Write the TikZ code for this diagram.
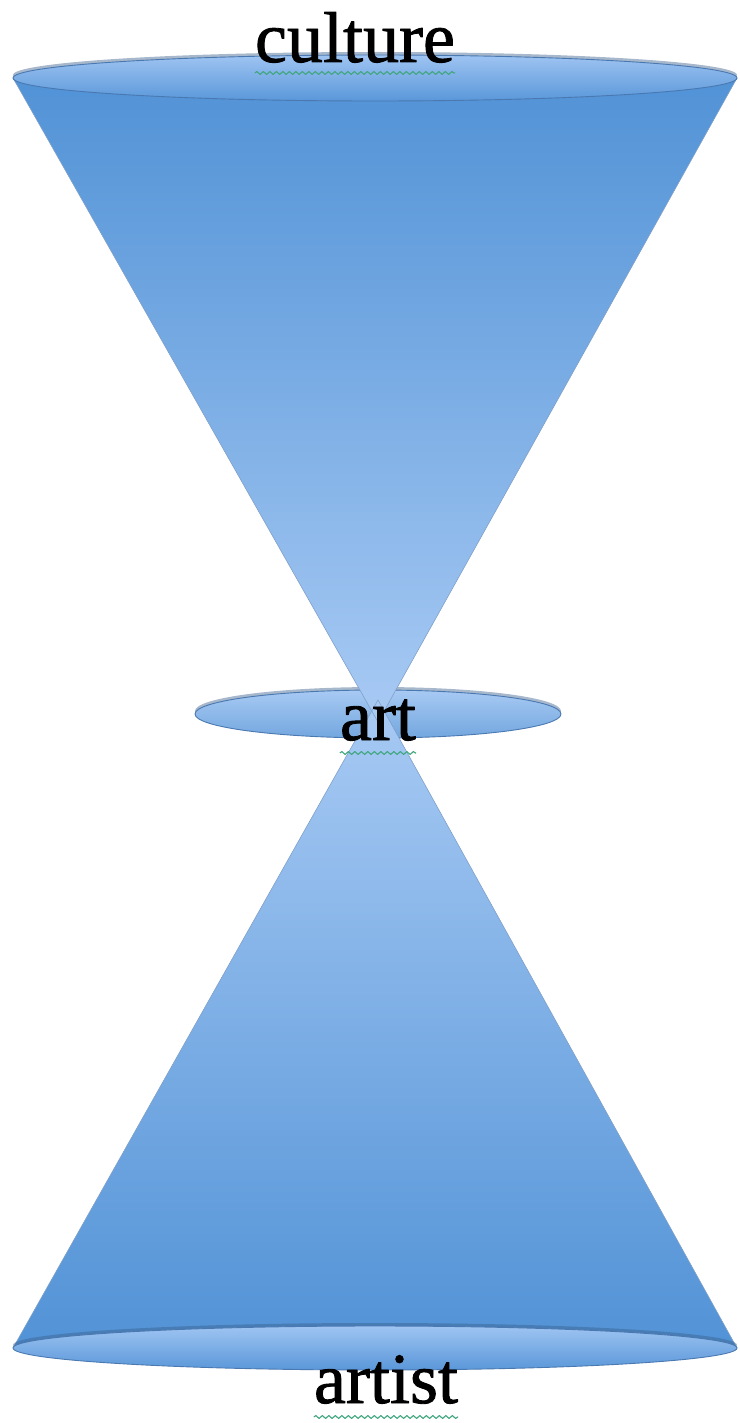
\documentclass[tikz,border=0pt]{standalone}
\usepackage{fontspec}
\setmainfont{Liberation Serif}
\newfontfamily\labelfont[FakeBold=1.2]{Liberation Serif}
\usetikzlibrary{decorations.pathmorphing}
\definecolor{conedark}{HTML}{5192D6}
\definecolor{conelight}{HTML}{A8CAF4}
\definecolor{rimlight}{HTML}{9EC4F2}
\definecolor{rimdark}{HTML}{5A97D9}
\definecolor{rimedge}{HTML}{4A78B0}
\definecolor{spellgreen}{HTML}{3FA67E}

\begin{document}
\begin{tikzpicture}[
  x=1pt,
  y=-1pt,
  line join=round,
  cone/.style={draw=rimedge!70,line width=0.6pt},
  rim/.style={draw=rimedge,line width=0.9pt},
  rimshadow/.style={fill=rimedge!80!black,opacity=0.45},
  word/.style={font=\labelfont\fontsize{72}{80}\selectfont,inner sep=0pt,anchor=base},
  squiggle/.style={draw=spellgreen,line width=1.1pt,
    decorate,decoration={snake,segment length=6.5pt,amplitude=1.4pt}}
]
  \useasboundingbox (0,0) rectangle (739,1423);

  % Rim ellipses and cone apices, in pixel coordinates of the page.
  \coordinate (topC) at (375,78);
  \coordinate (midC) at (378,714);
  \coordinate (botC) at (375,1348);
  \coordinate (topL) at (13,78);
  \coordinate (topR) at (737,78);
  \coordinate (botL) at (13,1348);
  \coordinate (botR) at (737,1348);
  \coordinate (topApex) at (378,722);
  \coordinate (botApex) at (378,700);

  % Middle rim sits behind the two cones.
  \fill[rimshadow] ([yshift=3pt]midC) ellipse[x radius=183,y radius=24];
  \shade[rim,top color=rimlight!90!white,bottom color=rimdark!85] (midC) ellipse[x radius=183,y radius=24];

  % Upper and lower cones.
  \shade[top color=conedark,bottom color=conelight] (topL) -- (topApex) -- (topR) -- cycle;
  \shade[top color=conelight,bottom color=conedark] (botApex) -- (botL) -- (botR) -- cycle;
  \draw[cone] (topL) -- (topApex) -- (topR);
  \draw[cone] (botL) -- (botApex) -- (botR);

  % Outer rims.
  \fill[rimshadow] ([yshift=3pt]topC) ellipse[x radius=362,y radius=23];
  \shade[rim,top color=rimlight,bottom color=rimdark] (topC) ellipse[x radius=362,y radius=23];
  \fill[rimshadow] ([yshift=3pt]botC) ellipse[x radius=362,y radius=22];
  \shade[rim,top color=rimlight,bottom color=rimdark] (botC) ellipse[x radius=362,y radius=22];

  % Labels with their spell-check underline.
  \node[word] (culture) at (355,62) {culture};
  \node[word] (art) at (378,740) {art};
  \node[word] (artist) at (386,1403) {artist};
  \draw[squiggle] ([yshift=-11pt]culture.base west) -- ([yshift=-11pt]culture.base east);
  \draw[squiggle] ([yshift=-13pt]art.base west) -- ([yshift=-13pt]art.base east);
  \draw[squiggle] ([yshift=-14pt]artist.base west) -- ([yshift=-14pt]artist.base east);
\end{tikzpicture}
\end{document}
